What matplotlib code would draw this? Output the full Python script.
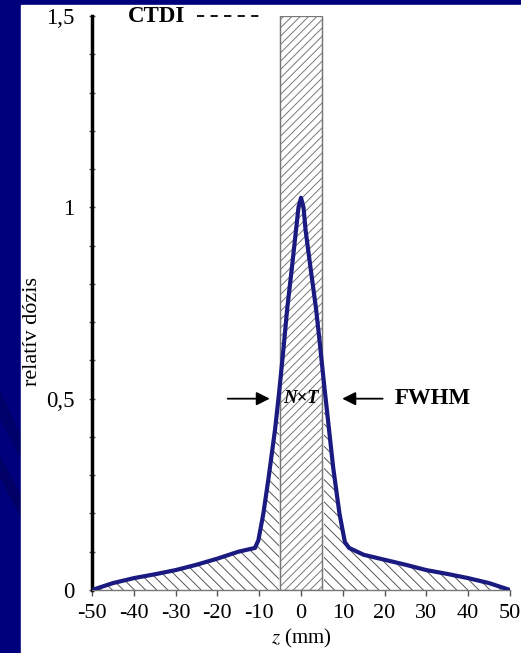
import matplotlib
matplotlib.use("Agg")
import matplotlib.pyplot as plt
from matplotlib.patches import Rectangle, Polygon
from matplotlib.ticker import MultipleLocator

# dose profile
z_mm = [-50, -45, -40, -35, -30, -25, -20, -15, -13, -11, -10.2, -9.0, -7.8, -6.2, -5.2,
        -4.2, -3.3, -2.2, -1.2, -0.6, 0, 0.6, 1.1, 2.3, 3.6, 4.5, 5.5, 6.2, 7.7, 9.2, 10.5,
        11.5, 15, 20, 25, 30, 35, 40, 45, 50]
dose = [0, 0.018, 0.031, 0.041, 0.052, 0.066, 0.082, 0.100, 0.105, 0.110, 0.13, 0.20,
        0.29, 0.42, 0.52, 0.63, 0.735, 0.84, 0.94, 1.0, 1.025, 1.0, 0.94, 0.84, 0.735,
        0.645, 0.54, 0.47, 0.32, 0.20, 0.125, 0.11, 0.092, 0.079, 0.066, 0.052, 0.042,
        0.031, 0.018, 0]

beam_left, beam_right = -5, 5
ctdi = 1.5
fwhm_level = 0.5

x_ticks = [-50, -40, -30, -20, -10, 0, 10, 20, 30, 40, 50]
y_ticks = [0, 0.5, 1, 1.5]
y_tick_labels = ['0', '0,5', '1', '1,5']

plt.rcParams['font.family'] = ['Liberation Serif', 'DejaVu Serif']
plt.rcParams['mathtext.fontset'] = 'stix'
plt.rcParams['hatch.linewidth'] = 0.7

fig = plt.figure(figsize=(5.21, 6.53), dpi=100, facecolor='#00007c')
# slide background: navy band on the left, white panel
fig.add_artist(Polygon([[0, 0.40], [21 / 521, 0.33], [21 / 521, 0.30], [0, 0.36]],
                       closed=True, transform=fig.transFigure, color='#00006a', zorder=-2))
fig.add_artist(Polygon([[0, 0.30], [21 / 521, 0.24], [21 / 521, 0.21], [0, 0.27]],
                       closed=True, transform=fig.transFigure, color='#000066', zorder=-2))
fig.add_artist(Rectangle((21 / 521, 0), 1 - 21 / 521, 1 - 5 / 653, transform=fig.transFigure,
                         color='white', zorder=-1))

ax = fig.add_axes([92 / 521, 1 - 590 / 653, 418 / 521, 574 / 653])
ax.set_facecolor('none')

# primary beam (N x T) box
ax.add_patch(Rectangle((beam_left, 0), beam_right - beam_left, ctdi, facecolor='white',
                       edgecolor='#777777', hatch='////', linewidth=0.9, zorder=1))

# scatter tails outside the beam
outside_left = [z <= beam_left for z in z_mm]
outside_right = [z >= beam_right for z in z_mm]
ax.fill_between(z_mm, 0, dose, where=outside_left, interpolate=True, facecolor='none',
                edgecolor='#555555', hatch='\\' * 3, linewidth=0, zorder=1)
ax.fill_between(z_mm, 0, dose, where=outside_right, interpolate=True, facecolor='none',
                edgecolor='#555555', hatch='\\' * 3, linewidth=0, zorder=1)
ax.vlines([beam_left, beam_right], 0, ctdi, color='#777777', linewidth=0.9, zorder=2)

ax.plot(z_mm, dose, color='#1a1a80', linewidth=3, solid_joinstyle='round', zorder=3)

ax.set_xlim(-50, 50)
ax.set_ylim(0, 1.5)
ax.set_xticks(x_ticks)
ax.set_xticklabels([str(t) for t in x_ticks])
ax.set_yticks(y_ticks)
ax.set_yticklabels(y_tick_labels)
ax.yaxis.set_minor_locator(MultipleLocator(0.1))

for side in ['top', 'right']:
    ax.spines[side].set_visible(False)
ax.spines['left'].set_linewidth(2.5)
ax.spines['left'].set_color('black')
ax.spines['bottom'].set_linewidth(1)
ax.spines['bottom'].set_color('#777777')

ax.tick_params(axis='y', which='both', direction='inout', length=5, width=1, color='#555555',
               labelsize=16.5, pad=10)
ax.tick_params(axis='x', which='major', direction='out', length=4, width=1, color='#555555',
               labelsize=16, pad=6)

ax.set_ylabel('relatív dózis', fontsize=16)
ax.yaxis.set_label_coords(-0.12, 0.45)
ax.set_xlabel('$z$ (mm)', fontsize=15)
ax.xaxis.set_label_coords(0.5, -0.064)

# annotations
ax.text(-41.5, ctdi, 'CTDI', fontsize=16.5, fontweight='bold', va='center', ha='left')
ax.plot([-24.9, -9.2], [ctdi, ctdi], color='black', linestyle=(0, (4, 3.5)), linewidth=1.3,
        clip_on=False)
ax.annotate('', xy=(-6.8, fwhm_level), xytext=(-18.2, fwhm_level),
            arrowprops=dict(arrowstyle='-|>', color='black', lw=1.3, mutation_scale=20))
ax.annotate('', xy=(9.2, fwhm_level), xytext=(20.2, fwhm_level),
            arrowprops=dict(arrowstyle='-|>', color='black', lw=1.3, mutation_scale=20))
ax.text(0, fwhm_level, 'N×T', fontsize=13.5, fontweight='bold', fontstyle='italic',
        ha='center', va='center', zorder=4)
ax.text(22.5, fwhm_level, 'FWHM', fontsize=16.5, fontweight='bold', ha='left', va='center')

fig.savefig('out.png', dpi=100, facecolor=fig.get_facecolor())
